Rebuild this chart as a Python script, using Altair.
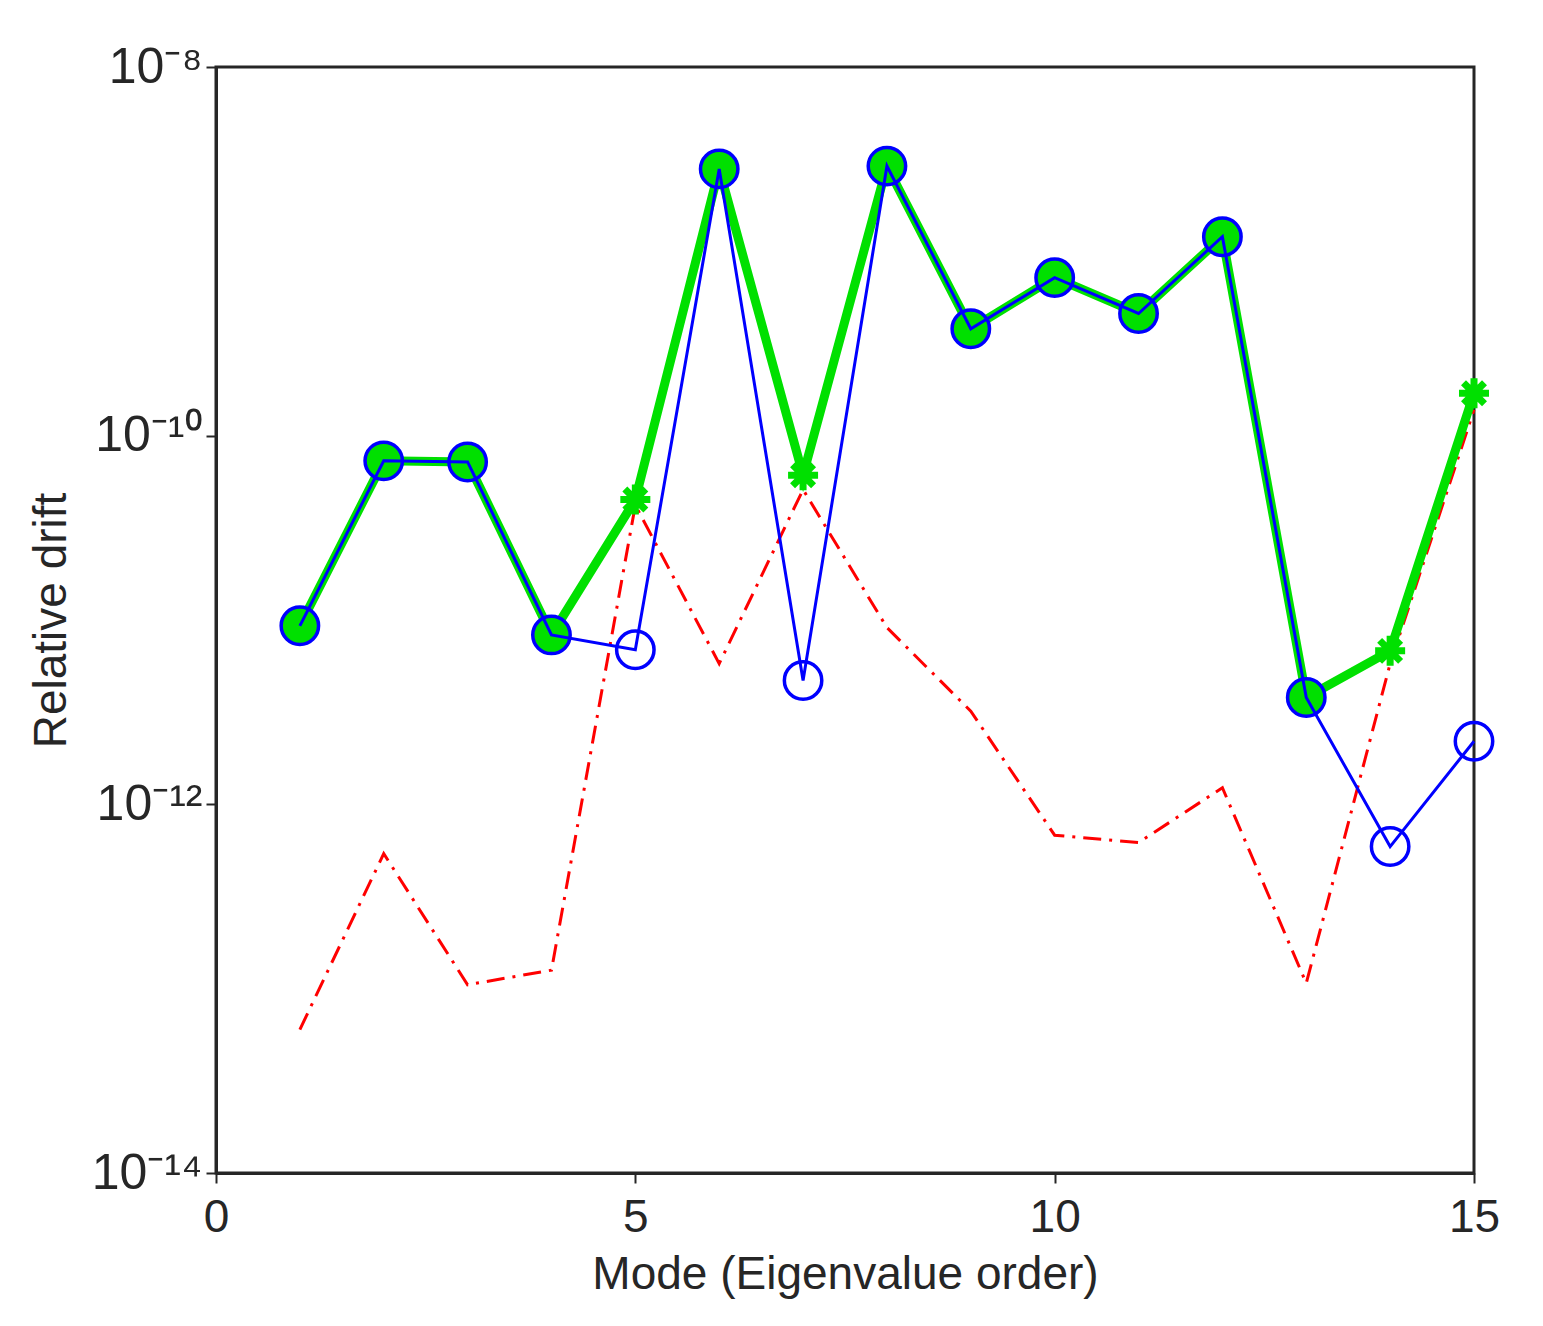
import altair as alt
import pandas as pd

modes = list(range(1, 16))
green = [9.3e-12, 7.3e-11, 7.2e-11, 8.3e-12, 4.5e-11, 2.8e-9, 6.1e-11, 2.9e-9, 3.8e-10, 7.2e-10, 4.6e-10, 1.2e-9, 3.8e-12, 6.8e-12, 1.7e-10]
blue = [9.3e-12, 7.3e-11, 7.2e-11, 8.3e-12, 6.9e-12, 2.8e-9, 4.7e-12, 2.9e-9, 3.8e-10, 7.2e-10, 4.6e-10, 1.2e-9, 3.8e-12, 5.9e-13, 2.2e-12]
red = [6.0e-14, 5.4e-13, 1.05e-13, 1.26e-13, 4.2e-11, 5.8e-12, 5.1e-11, 9.1e-12, 3.2e-12, 6.8e-13, 6.2e-13, 1.23e-12, 1.07e-13, 5.8e-12, 1.38e-10]
star_modes = [5, 7, 14, 15]

df = pd.DataFrame({"mode": modes, "green": green, "blue": blue, "red": red})
df["star"] = df["mode"].isin(star_modes)

labexpr = "datum.value >= 0.99e-8 ? '10⁻⁸' : datum.value >= 0.99e-10 ? '10⁻¹⁰' : datum.value >= 0.99e-12 ? '10⁻¹²' : '10⁻¹⁴'"

x = alt.X("mode:Q", scale=alt.Scale(domain=[0, 15], nice=False),
          axis=alt.Axis(values=[0, 5, 10, 15], format="d", labelFlush=False, title="Mode (Eigenvalue order)", grid=False,
                        labelFontSize=46, titleFontSize=46, labelColor="#262626", titleColor="#262626",
                        domainColor="#262626", domainWidth=3, tickColor="#262626", tickWidth=2, tickSize=10,
                        labelPadding=12, titlePadding=12, titleFontWeight="normal"))
ysc = alt.Scale(type="log", domain=[1e-14, 1e-8], nice=False)
yax = alt.Axis(values=[1e-14, 1e-12, 1e-10, 1e-8], labelExpr=labexpr, labelFlush=False, title="Relative drift", grid=False,
               labelFontSize=50, titleFontSize=46, labelColor="#262626", titleColor="#262626",
               domainColor="#262626", domainWidth=3, tickColor="#262626", tickWidth=2, tickSize=10,
               labelPadding=4, titlePadding=16, titleFontWeight="normal")

star_path = "M-1,0L1,0M0,-1L0,1M-0.7,-0.7L0.7,0.7M-0.7,0.7L0.7,-0.7"

base = alt.Chart(df)
red_line = base.mark_line(color="#ff0000", strokeWidth=3, strokeDash=[18, 8, 3, 8]).encode(
    x=x, y=alt.Y("red:Q", scale=ysc, axis=yax))
green_line = base.mark_line(color="#00e000", strokeWidth=9).encode(x="mode:Q", y=alt.Y("green:Q", scale=ysc))
green_circ = base.transform_filter("!datum.star").mark_point(shape="circle", filled=True, color="#00e000", size=1300, opacity=1).encode(
    x="mode:Q", y=alt.Y("green:Q", scale=ysc))
green_star = base.transform_filter("datum.star").mark_point(shape=star_path, filled=False, color="#00e000", size=900, strokeWidth=7, opacity=1).encode(
    x="mode:Q", y=alt.Y("green:Q", scale=ysc))
blue_line = base.mark_line(color="#0000ff", strokeWidth=3).encode(x="mode:Q", y=alt.Y("blue:Q", scale=ysc))
blue_circ = base.mark_point(shape="circle", filled=False, color="#0000ff", size=1400, strokeWidth=3.5, opacity=1).encode(
    x="mode:Q", y=alt.Y("blue:Q", scale=ysc))

chart = alt.layer(red_line, green_line, green_circ, green_star, blue_line, blue_circ).properties(
    width=1258, height=1106, padding={"left": 20, "top": 34, "right": 30, "bottom": 5}
).configure(font="Liberation Sans").configure_view(stroke="#262626", strokeWidth=3)

chart.save("out.html", embed_options={"renderer": "svg", "actions": False})
